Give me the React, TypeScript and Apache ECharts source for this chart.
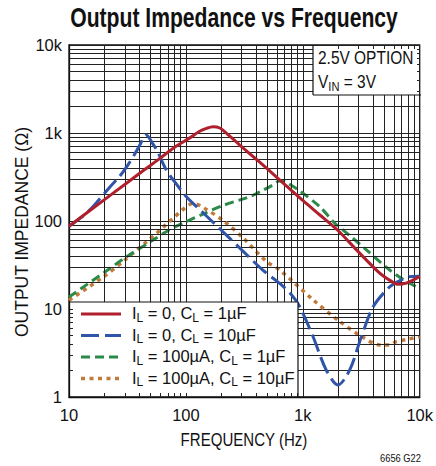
import { useEffect, useRef } from "react";
import * as echarts from "echarts";

const FONT = "'Liberation Sans', Arial, sans-serif";

// ---- data ----
const seriesNames = ["IL0_CL1", "IL0_CL10", "IL100_CL1", "IL100_CL10"];
const legendLabels = [
  "{n|I}{s|L}{n| = 0, C}{s|L}{n| = 1µF}",
  "{n|I}{s|L}{n| = 0, C}{s|L}{n| = 10µF}",
  "{n|I}{s|L}{n| = 100µA, C}{s|L}{n| = 1µF}",
  "{n|I}{s|L}{n| = 100µA, C}{s|L}{n| = 10µF}",
];
const seriesColors = ["#b01f2c", "#3054a8", "#2a8a48", "#c27a3a"];

const redFreq = [10, 20, 30, 45, 60, 80, 108, 130, 150, 171, 195, 223, 289, 402, 616, 1000, 1400, 2000, 2880, 4550, 5600, 6530, 7600, 8750, 10000];
const redZ = [87, 174, 260, 390, 515, 690, 880, 1040, 1130, 1180, 1140, 990, 730, 500, 304, 171, 117, 78, 47, 25.5, 21, 19.1, 19.6, 21.3, 23.5];

const blueFreq = [10, 13, 16, 22.4, 27, 31, 36, 41, 43.5, 45.5, 47.5, 51, 57, 68, 80, 101, 150, 200, 300, 450, 635, 800, 942, 1225, 1585, 2000, 2520, 3170, 4000, 5550, 7000, 8220, 10000];
const blueZ = [87, 112, 145, 244, 320, 410, 560, 760, 900, 950, 915, 790, 620, 380, 280, 189, 114, 79, 47, 28, 19.5, 14.5, 10.6, 4.84, 2.03, 1.37, 2.03, 4.84, 10.6, 17.9, 21.5, 23.3, 23.5];

const greenFreq = [10, 20, 30, 49.5, 73, 95, 140, 207, 352, 450, 550, 635, 720, 940, 1400, 1870, 2500, 3500, 5550, 7500, 10000];
const greenZ = [13.7, 26, 38, 58, 80, 95, 120, 150, 189, 222, 255, 285, 275, 220, 145, 95, 69, 47, 27.7, 21, 17.2];

const orangeFreq = [10, 20, 30, 46, 56, 68, 78, 95, 115, 145, 215, 309, 490, 635, 1225, 2070, 3270, 4550, 5500, 6310, 8000, 10000];
const orangeZ = [12.6, 23.5, 36, 58, 72, 92, 108, 136, 159, 139, 98, 64, 34.6, 27.7, 12.7, 7.2, 4.77, 3.9, 3.9, 4.25, 4.55, 4.84];

const xMinorTicks = [20, 30, 40, 50, 60, 70, 80, 90, 200, 300, 400, 500, 600, 700, 800, 900, 2000, 3000, 4000, 5000, 6000, 7000, 8000, 9000];
const yMinorTicks = [2, 3, 4, 5, 6, 7, 8, 9, 20, 30, 40, 50, 60, 70, 80, 90, 200, 300, 400, 500, 600, 700, 800, 900, 2000, 3000, 4000, 5000, 6000, 7000, 8000, 9000];

const zip = (a: number[], b: number[]) => a.map((v, i) => [v, b[i]]);

const fmtTick = (v: number) => {
  const r = Math.round(v);
  return r >= 1000 ? r / 1000 + "k" : String(r);
};

const dashes: any[] = ["solid", [18, 6], [9, 5], [4, 4.5]];
const widths = [3, 3, 3, 3.5];
const seriesZ = [6, 5, 4, 3];

export default function App() {
  const ref = useRef<HTMLDivElement>(null);
  useEffect(() => {
    if (!ref.current) return;
    const chart = echarts.init(ref.current, undefined, { renderer: "svg" });
    const gridColor = "#222";
    const seriesData = [
      zip(redFreq, redZ),
      zip(blueFreq, blueZ),
      zip(greenFreq, greenZ),
      zip(orangeFreq, orangeZ),
    ];
    const lineSeries = seriesData.map((d, i) => ({
      type: "line",
      name: seriesNames[i],
      data: d,
      showSymbol: false,
      symbol: "none",
      smooth: 0.3,
      z: seriesZ[i],
      itemStyle: { color: seriesColors[i] },
      lineStyle: { color: seriesColors[i], width: widths[i], type: dashes[i], cap: "butt" },
      emphasis: { disabled: true },
    }));

    const legendRows = [314, 335.5, 357, 378.5];
    const legendGraphics: any[] = [];
    legendRows.forEach((cy, i) => {
      legendGraphics.push({
        type: "line",
        z: 103,
        shape: { x1: 81, y1: cy, x2: 121, y2: cy },
        style: {
          stroke: seriesColors[i],
          lineWidth: widths[i],
          lineDash: i === 0 ? null : dashes[i],
          lineCap: "butt",
        },
      });
      legendGraphics.push({
        type: "text",
        z: 103,
        x: 132,
        y: cy,
        style: {
          text: legendLabels[i],
          align: "left",
          verticalAlign: "middle",
          rich: {
            n: { fontSize: 16.5, fontFamily: FONT, fill: "#111", color: "#111", lineHeight: 19, verticalAlign: "top" },
            s: { fontSize: 12, fontFamily: FONT, fill: "#111", color: "#111", lineHeight: 8, verticalAlign: "bottom" },
          },
        },
      });
    });

    const axisLabel = {
      formatter: fmtTick,
      fontSize: 16.5,
      fontFamily: FONT,
      color: "#111",
      showMinLabel: true,
      showMaxLabel: true,
    };

    const option: any = {
      animation: false,
      backgroundColor: "#fff",
      grid: {
        left: 69,
        right: 15,
        top: 45,
        bottom: 69,
        show: true,
        borderColor: "#111",
        borderWidth: 1.3,
        backgroundColor: "transparent",
      },
      xAxis: {
        type: "log",
        logBase: 10,
        min: 10,
        max: 10000,
        axisLine: { show: true, lineStyle: { color: "#111", width: 1.3 } },
        axisTick: { show: false },
        minorTick: { show: false },
        splitLine: { show: true, lineStyle: { color: gridColor, width: 1 } },
        axisLabel: { ...axisLabel, margin: 9 },
      },
      yAxis: {
        type: "log",
        logBase: 10,
        min: 1,
        max: 10000,
        axisLine: { show: true, lineStyle: { color: "#111", width: 1.3 } },
        axisTick: { show: false },
        minorTick: { show: false },
        splitLine: { show: true, lineStyle: { color: gridColor, width: 1 } },
        axisLabel: { ...axisLabel, margin: 7 },
      },
      graphic: [
        { type: "rect", z: 100, shape: { x: 73, y: 302, width: 225, height: 91 }, style: { fill: "#fff" } },
        { type: "line", z: 101, shape: { x1: 69, y1: 302, x2: 298, y2: 302 }, style: { stroke: "#111", lineWidth: 1.2 } },
        { type: "line", z: 101, shape: { x1: 298, y1: 302, x2: 298, y2: 397 }, style: { stroke: "#111", lineWidth: 1.2 } },
        { type: "rect", z: 100, shape: { x: 313, y: 49, width: 104, height: 46 }, style: { fill: "#fff" } },
        { type: "line", z: 101, shape: { x1: 313, y1: 45, x2: 313, y2: 95 }, style: { stroke: "#111", lineWidth: 1.2 } },
        { type: "line", z: 101, shape: { x1: 313, y1: 95, x2: 421, y2: 95 }, style: { stroke: "#111", lineWidth: 1.2 } },
        {
          type: "text", z: 102, x: 318, y: 58.5, scaleX: 0.86,
          style: { text: "2.5V OPTION", fontSize: 18, fontFamily: FONT, fill: "#111", align: "left", verticalAlign: "middle" },
        },
        {
          type: "text", z: 102, x: 318, y: 83, scaleX: 0.86,
          style: {
            text: "{n|V}{s|IN}{n| = 3V}",
            align: "left",
            verticalAlign: "middle",
            rich: {
              n: { fontSize: 18, fontFamily: FONT, fill: "#111", color: "#111", lineHeight: 20, verticalAlign: "top" },
              s: { fontSize: 13, fontFamily: FONT, fill: "#111", color: "#111", lineHeight: 8, verticalAlign: "bottom" },
            },
          },
        },
        {
          type: "text", z: 102, x: 234, y: 17, scaleX: 0.755,
          style: { text: "Output Impedance vs Frequency", fontSize: 28, fontWeight: "bold", fontFamily: FONT, fill: "#111", align: "center", verticalAlign: "middle" },
        },
        {
          type: "text", z: 102, x: 244, y: 440, scaleX: 0.86,
          style: { text: "FREQUENCY (Hz)", fontSize: 17.5, fontFamily: FONT, fill: "#111", align: "center", verticalAlign: "middle" },
        },
        {
          type: "text", z: 102, x: 22, y: 232, rotation: Math.PI / 2,
          style: { text: "OUTPUT IMPEDANCE (Ω)", fontSize: 17.5, fontFamily: FONT, fill: "#111", align: "center", verticalAlign: "middle" },
        },
        {
          type: "text", z: 102, x: 421, y: 458, scaleX: 0.85,
          style: { text: "6656 G22", fontSize: 11, fontFamily: FONT, fill: "#111", align: "right", verticalAlign: "middle" },
        },
        ...legendGraphics,
      ],
      series: [
        {
          type: "line",
          name: "minorGrid",
          data: [],
          silent: true,
          z: 1,
          markLine: {
            silent: true,
            animation: false,
            symbol: ["none", "none"],
            label: { show: false },
            emphasis: { disabled: true },
            lineStyle: { color: gridColor, width: 1, type: "solid" },
            data: [
              ...xMinorTicks.map((v) => ({ xAxis: v })),
              ...yMinorTicks.map((v) => ({ yAxis: v })),
            ],
          },
        },
        ...lineSeries,
      ],
    };
    chart.setOption(option);
    return () => chart.dispose();
  }, []);
  return (
    <div
      ref={ref}
      style={{ position: "fixed", left: 0, top: 0, width: 436, height: 466, background: "#fff" }}
    />
  );
}
